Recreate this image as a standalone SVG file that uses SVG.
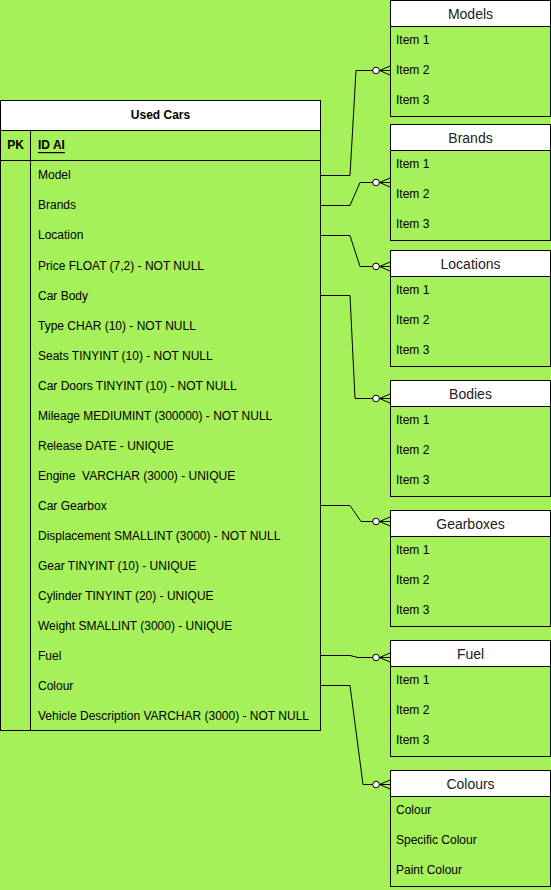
<svg xmlns="http://www.w3.org/2000/svg" width="551" height="890" viewBox="0 0 551 890">
<style>
text{font-family:"Liberation Sans",Arial,sans-serif;fill:#000;dominant-baseline:central}
.row{font-size:12px;white-space:pre}
.b{font-weight:bold}
.hd{font-size:14px;fill:#222;text-anchor:middle}
.it{font-size:12px}
.box{fill:#a6f05a;stroke:#000;stroke-width:1}
.head{fill:#fff;stroke:#000;stroke-width:1}
.ln{stroke:#000;stroke-width:1;fill:none}
.cn{stroke:#000;stroke-width:1;fill:none;marker-end:url(#zm)}
</style>
<defs>
<marker id="zm" markerUnits="userSpaceOnUse" markerWidth="24" markerHeight="14" viewBox="-20 -7 24 14" refX="0" refY="0" orient="auto" overflow="visible">
<circle cx="-14" cy="0" r="3.3" fill="#fff" stroke="#000" stroke-width="1"/>
<path d="M-10.5 0 L0 -4.5 M-10.5 0 L0 0 M-10.5 0 L0 4.5" stroke="#000" stroke-width="1" fill="none"/>
</marker>
</defs>
<rect x="0" y="0" width="551" height="890" fill="#a6f05a"/>

<g id="connectors">
<path class="cn" d="M320.5 175.5 H350 L356 70.5 H390"/>
<path class="cn" d="M320.5 205.5 H350 L360 182.5 H390"/>
<path class="cn" d="M320.5 235.5 H350 L360 266.5 H390"/>
<path class="cn" d="M320.5 295.5 H350 L355 398.5 H390"/>
<path class="cn" d="M320.5 505.5 H350 L361 521.5 H390"/>
<path class="cn" d="M320.5 655.5 H350 L358 657.5 H390"/>
<path class="cn" d="M320.5 685.5 H350 L363 784.5 H390"/>
</g>

<g id="used-cars">
<rect class="box" x="0.5" y="100.5" width="320" height="630"/>
<rect class="head" x="0.5" y="100.5" width="320" height="30"/>
<text class="row b" x="160.5" y="115" text-anchor="middle">Used Cars</text>
<line class="ln" x1="0.5" y1="160.5" x2="320.5" y2="160.5"/>
<line class="ln" x1="30.5" y1="130.5" x2="30.5" y2="730.5"/>
<text class="row b" x="15.5" y="145" text-anchor="middle">PK</text>
<text class="row b" x="38" y="145" text-decoration="underline">ID AI</text>
<text class="row" x="38" y="175">Model</text>
<text class="row" x="38" y="205">Brands</text>
<text class="row" x="38" y="235">Location</text>
<text class="row" x="38" y="266">Price FLOAT (7,2) - NOT NULL</text>
<text class="row" x="38" y="296">Car Body</text>
<text class="row" x="38" y="326">Type CHAR (10) - NOT NULL</text>
<text class="row" x="38" y="356">Seats TINYINT (10) - NOT NULL</text>
<text class="row" x="38" y="386">Car Doors TINYINT (10) - NOT NULL</text>
<text class="row" x="38" y="416">Mileage MEDIUMINT (300000) - NOT NULL</text>
<text class="row" x="38" y="446">Release DATE - UNIQUE</text>
<text class="row" x="38" y="476">Engine  VARCHAR (3000) - UNIQUE</text>
<text class="row" x="38" y="506">Car Gearbox</text>
<text class="row" x="38" y="536">Displacement SMALLINT (3000) - NOT NULL</text>
<text class="row" x="38" y="566">Gear TINYINT (10) - UNIQUE</text>
<text class="row" x="38" y="596">Cylinder TINYINT (20) - UNIQUE</text>
<text class="row" x="38" y="626">Weight SMALLINT (3000) - UNIQUE</text>
<text class="row" x="38" y="656">Fuel</text>
<text class="row" x="38" y="686">Colour</text>
<text class="row" x="38" y="716">Vehicle Description VARCHAR (3000) - NOT NULL</text>
</g>

<g id="models">
<rect class="box" x="390.5" y="0.5" width="160" height="116"/>
<rect class="head" x="390.5" y="0.5" width="160" height="26"/>
<text class="hd" x="470.5" y="14">Models</text>
<text class="it" x="396" y="40">Item 1</text>
<text class="it" x="396" y="70">Item 2</text>
<text class="it" x="396" y="100">Item 3</text>
</g>
<g id="brands">
<rect class="box" x="390.5" y="124.5" width="160" height="116"/>
<rect class="head" x="390.5" y="124.5" width="160" height="26"/>
<text class="hd" x="470.5" y="138">Brands</text>
<text class="it" x="396" y="164">Item 1</text>
<text class="it" x="396" y="194">Item 2</text>
<text class="it" x="396" y="224">Item 3</text>
</g>
<g id="locations">
<rect class="box" x="390.5" y="250.5" width="160" height="116"/>
<rect class="head" x="390.5" y="250.5" width="160" height="26"/>
<text class="hd" x="470.5" y="264">Locations</text>
<text class="it" x="396" y="290">Item 1</text>
<text class="it" x="396" y="320">Item 2</text>
<text class="it" x="396" y="350">Item 3</text>
</g>
<g id="bodies">
<rect class="box" x="390.5" y="380.5" width="160" height="116"/>
<rect class="head" x="390.5" y="380.5" width="160" height="26"/>
<text class="hd" x="470.5" y="394">Bodies</text>
<text class="it" x="396" y="420">Item 1</text>
<text class="it" x="396" y="450">Item 2</text>
<text class="it" x="396" y="480">Item 3</text>
</g>
<g id="gearboxes">
<rect class="box" x="390.5" y="510.5" width="160" height="116"/>
<rect class="head" x="390.5" y="510.5" width="160" height="26"/>
<text class="hd" x="470.5" y="524">Gearboxes</text>
<text class="it" x="396" y="550">Item 1</text>
<text class="it" x="396" y="580">Item 2</text>
<text class="it" x="396" y="610">Item 3</text>
</g>
<g id="fuel">
<rect class="box" x="390.5" y="640.5" width="160" height="116"/>
<rect class="head" x="390.5" y="640.5" width="160" height="26"/>
<text class="hd" x="470.5" y="654">Fuel</text>
<text class="it" x="396" y="680">Item 1</text>
<text class="it" x="396" y="710">Item 2</text>
<text class="it" x="396" y="740">Item 3</text>
</g>
<g id="colours">
<rect class="box" x="390.5" y="770.5" width="160" height="116"/>
<rect class="head" x="390.5" y="770.5" width="160" height="26"/>
<text class="hd" x="470.5" y="784">Colours</text>
<text class="it" x="396" y="810">Colour</text>
<text class="it" x="396" y="840">Specific Colour</text>
<text class="it" x="396" y="870">Paint Colour</text>
</g>
</svg>
